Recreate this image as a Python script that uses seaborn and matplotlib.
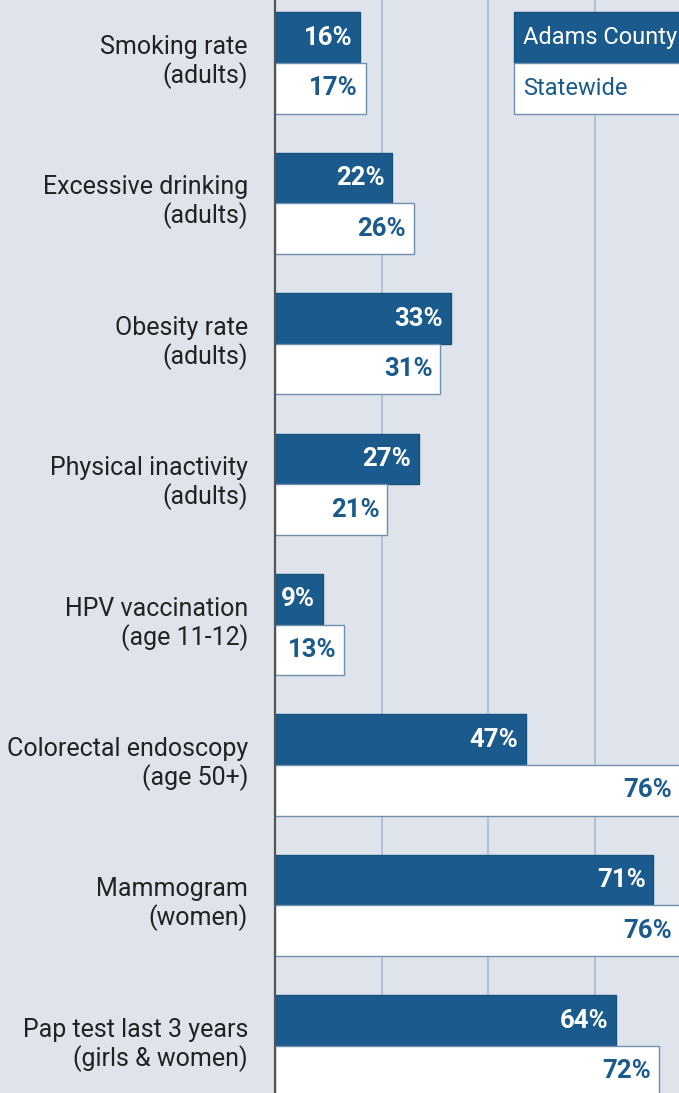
import matplotlib
matplotlib.use("Agg")
import matplotlib.pyplot as plt
import matplotlib.transforms as mtransforms
import pandas as pd
import seaborn as sns

categories = [
    "Smoking rate\n(adults)",
    "Excessive drinking\n(adults)",
    "Obesity rate\n(adults)",
    "Physical inactivity\n(adults)",
    "HPV vaccination\n(age 11-12)",
    "Colorectal endoscopy\n(age 50+)",
    "Mammogram\n(women)",
    "Pap test last 3 years\n(girls & women)",
]
county = [16, 22, 33, 27, 9, 47, 71, 64]
statewide = [17, 26, 31, 21, 13, 76, 76, 72]
series = ["Adams County", "Statewide"]

BG = "#dfe4ec"
DARK = "#1a5a8c"
EDGE = "#6f8fae"
GRID = "#aebdd0"

df = pd.DataFrame({
    "measure": categories * 2,
    "value": county + statewide,
    "area": [series[0]] * len(categories) + [series[1]] * len(categories),
})

sns.set_style("white")
plt.rcParams["font.family"] = ["Roboto", "DejaVu Sans"]

fig = plt.figure(figsize=(6.79, 10.93), dpi=100, facecolor=BG)
ax = fig.add_axes([275 / 679, 0, 404 / 679, 1])
ax.set_facecolor(BG)

sns.barplot(data=df, y="measure", x="value", hue="area", order=categories,
            hue_order=series, palette=[DARK, "white"], width=0.72,
            saturation=1, orient="h", legend=False, ax=ax, zorder=3)

for bar in ax.patches:
    if bar.get_facecolor()[0] > 0.9:
        bar.set_edgecolor(EDGE)
    else:
        bar.set_edgecolor("#16507e")
    bar.set_linewidth(1.0)

# value labels, right aligned inside the bar ends
for cont, col in zip(ax.containers, ["white", DARK]):
    for bar, v in zip(cont.patches, cont.datavalues):
        ax.annotate(f"{v:g}%", (bar.get_width(), bar.get_y() + bar.get_height() / 2),
                    xytext=(-5.5, 0), textcoords="offset points", ha="right",
                    va="center", color=col, fontsize=18.5, fontweight="bold",
                    zorder=5, annotation_clip=False)

ax.set_xlim(0, 75.8)
ax.set_ylim(7.336, -0.449)
ax.set_xticks([20, 40, 60])
ax.xaxis.grid(True, color=GRID, linewidth=1.3, zorder=0)
ax.set_axisbelow(True)
ax.set_xlabel("")
ax.set_ylabel("")
ax.tick_params(axis="x", bottom=False, labelbottom=False)
ax.tick_params(axis="y", left=False, pad=16, labelsize=18, labelcolor="#222222")
shift = mtransforms.ScaledTranslation(0, 4 / 72, fig.dpi_scale_trans)
for lab in ax.get_yticklabels():
    lab.set_horizontalalignment("right")
    lab.set_multialignment("right")
    lab.set_linespacing(1.15)
    lab.set_transform(lab.get_transform() + shift)
for side in ["top", "right", "bottom"]:
    ax.spines[side].set_visible(False)
ax.spines["left"].set_color("#555555")
ax.spines["left"].set_linewidth(1.6)
ax.spines["left"].set_zorder(6)

# legend boxes in the top right corner
for i, (name, face, txt) in enumerate(zip(series, [DARK, "white"], ["white", DARK])):
    ax.add_patch(plt.Rectangle((44.8, -0.36 + 0.36 * i), 40, 0.36, facecolor=face,
                               edgecolor=EDGE if i else "#16507e", linewidth=1.0,
                               zorder=7, clip_on=True))
    ax.text(46.5, -0.18 + 0.36 * i, name, color=txt, fontsize=17, va="center",
            ha="left", zorder=8)

fig.savefig("out.png", dpi=100, facecolor=BG)
